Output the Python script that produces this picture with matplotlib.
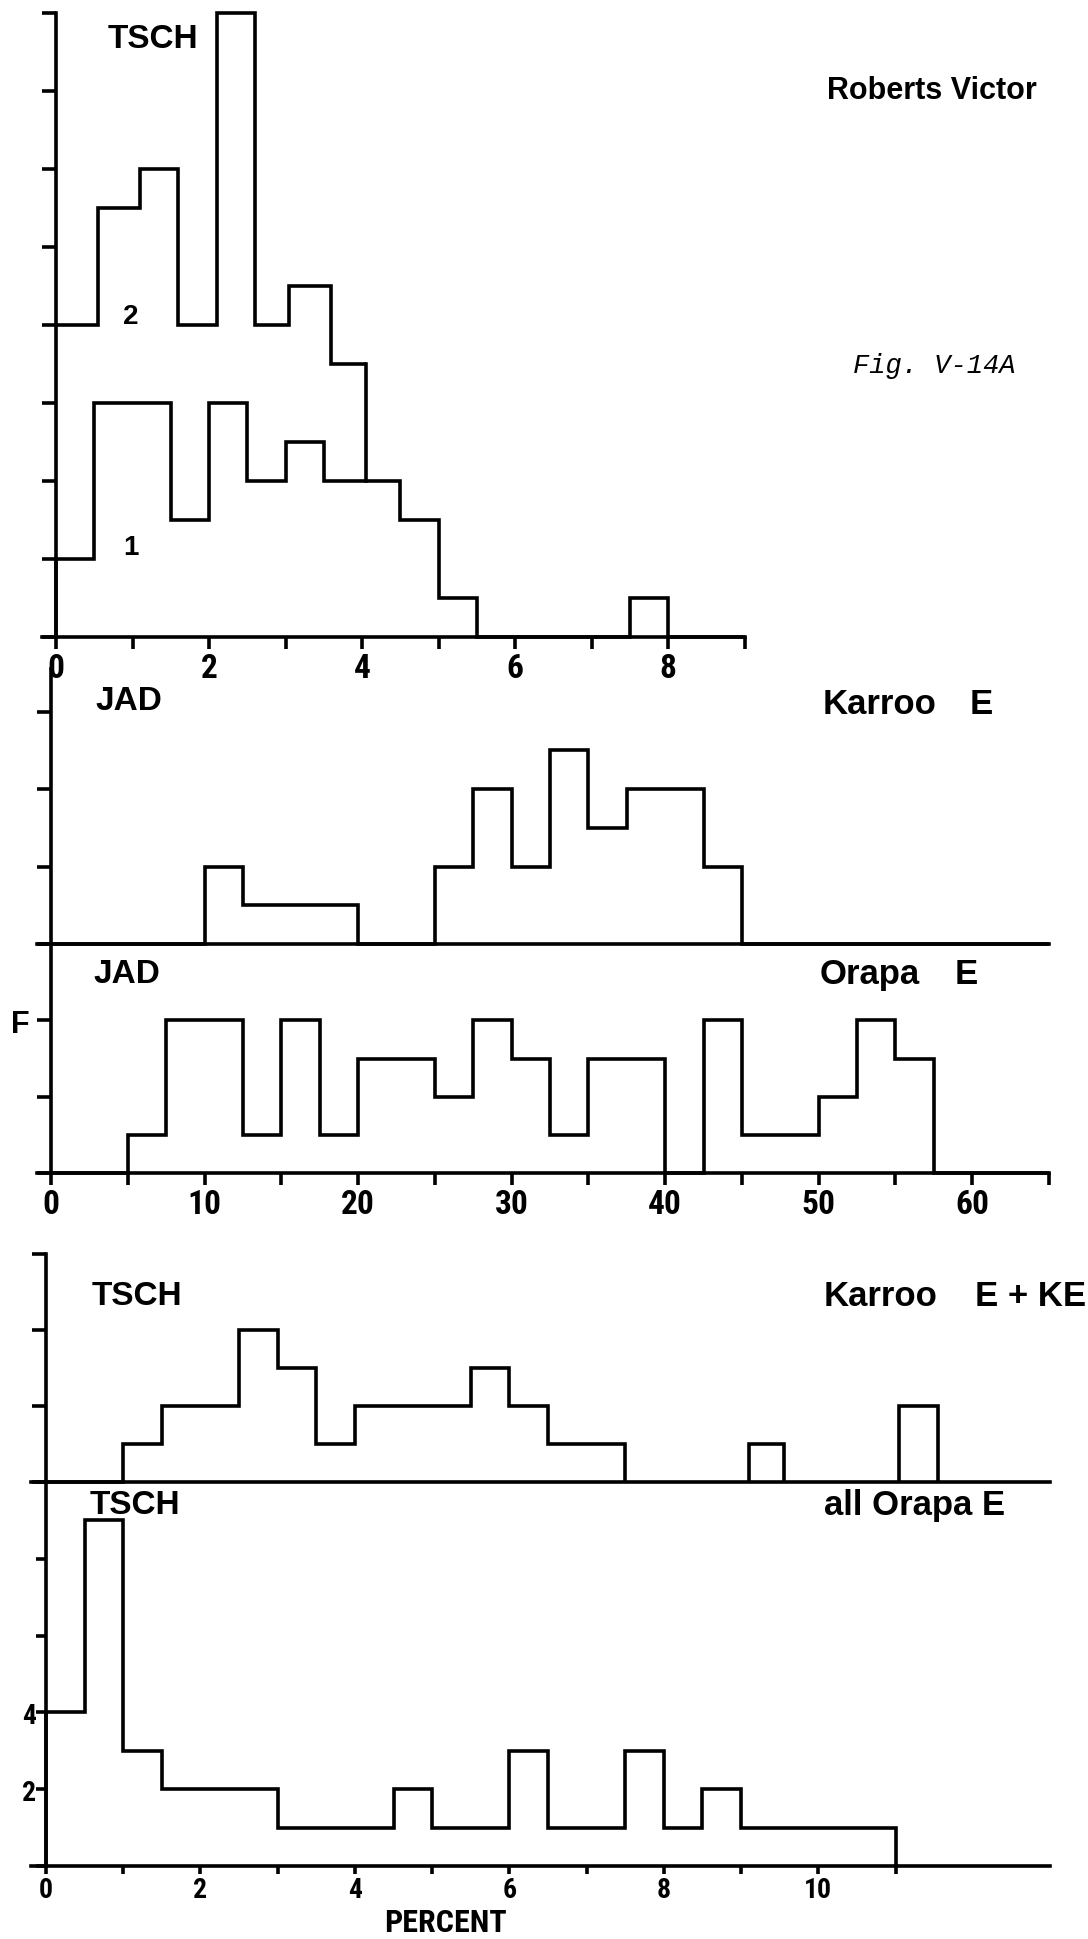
import matplotlib
matplotlib.use("Agg")
import matplotlib.pyplot as plt
from matplotlib import font_manager

# ---- data (counts per bin) ----
# Roberts Victor, TSCH
rv_edges = [0, 0.5, 1, 1.5, 2, 2.5, 3, 3.5, 4, 4.5, 5, 5.5, 6, 6.5, 7, 7.5, 8, 8.5, 9]
rv_curve1 = [2, 6, 6, 3, 6, 4, 5, 4, 4, 3, 1, 0, 0, 0, 0, 1, 0, 0]
rv_curve2_edges = [0, 0.55, 1.1, 1.6, 2.1, 2.6, 3.05, 3.6, 4.05]
rv_curve2 = [8, 11, 12, 8, 16, 8, 9, 7]

# JAD, bins of 2.5 %
jad_edges = [i * 2.5 for i in range(27)]
karroo_jad = [0, 0, 0, 0, 2, 1, 1, 1, 0, 0, 2, 4, 2, 5, 3, 4, 4, 2, 0, 0, 0, 0, 0, 0, 0, 0]
orapa_jad = [0, 0, 1, 4, 4, 1, 4, 1, 3, 3, 2, 4, 3, 1, 3, 3, 0, 4, 1, 1, 2, 4, 3, 0, 0, 0]

# TSCH, bins of 0.5 %
karroo_tsch_edges = [0, 0.5, 1, 1.5, 2, 2.5, 3, 3.5, 4, 4.5, 5, 5.5, 6, 6.5, 7, 7.5]
karroo_tsch = [0, 0, 1, 2, 2, 4, 3, 1, 2, 2, 2, 3, 2, 1, 1]
karroo_tsch_extra = [([9.1, 9.55], [1]), ([11.05, 11.55], [2])]
orapa_tsch_edges = [i * 0.5 for i in range(23)]
orapa_tsch = [4, 9, 3, 2, 2, 2, 1, 1, 1, 2, 1, 1, 3, 1, 1, 3, 1, 2, 1, 1, 1, 1]

W, H = 1088, 1940
LW = 2.6

names = {f.name for f in font_manager.fontManager.ttflist}
NARROW = "DejaVu Sans"
for cand in ["Liberation Sans Narrow", "Roboto Condensed", "Open Sans Condensed", "DejaVu Sans Condensed"]:
    if cand in names:
        NARROW = cand
        break
plt.rcParams["font.family"] = ["Liberation Sans", "DejaVu Sans"]

fig = plt.figure(figsize=(W / 100, H / 100), dpi=100)
fig.patch.set_facecolor("white")


def add_panel(xl, xr, yt, yb):
    return fig.add_axes([xl / W, 1 - yb / H, (xr - xl) / W, (yb - yt) / H])


def style(ax, size=24):
    for s in ["top", "right"]:
        ax.spines[s].set_visible(False)
    for s in ["left", "bottom"]:
        ax.spines[s].set_linewidth(LW)
        ax.spines[s].set_capstyle("projecting")
    ax.patch.set_alpha(0)
    ax.tick_params(axis="both", labelsize=size, labelfontfamily=NARROW)
    ax.tick_params(axis="y", direction="out", length=10, width=LW)
    ax.tick_params(axis="x", direction="out", length=8.5, width=LW, pad=2)
    for lab in ax.get_xticklabels() + ax.get_yticklabels():
        lab.set_fontweight("bold")
        lab.set_fontsize(size)
        lab.set_fontfamily(NARROW)


def steps(ax, vals, edges, baseline=0):
    ax.stairs(vals, edges, baseline=baseline, color="black", lw=LW,
              clip_on=False, joinstyle="miter")


def txt(x, y, s, **kw):
    kw.setdefault("fontsize", 24)
    kw.setdefault("fontweight", "bold")
    kw.setdefault("va", "center")
    fig.text(x / W, 1 - y / H, s, **kw)


# ---- Roberts Victor ----
ax1 = add_panel(56, 744.5, 14, 638)
steps(ax1, rv_curve1, rv_edges)
steps(ax1, rv_curve2, rv_curve2_edges, baseline=None)
join_x = rv_curve2_edges[-1]
join_y = rv_curve1[int(join_x // 0.5)]
ax1.plot([join_x, join_x], [rv_curve2[-1], join_y], color="black", lw=LW,
         solid_capstyle="projecting")
ax1.set_xlim(0, 9)
ax1.set_ylim(0, 16)
ax1.set_yticks(range(0, 17, 2))
ax1.set_yticklabels([])
ax1.set_xticks(range(0, 10))
ax1.set_xticklabels([str(v) if v % 2 == 0 and v < 9 else "" for v in range(0, 10)])
style(ax1)
ax1.spines["bottom"].set_bounds(-0.18, 9)

# ---- Karroo E, JAD ----
ax2 = add_panel(51, 1049, 670, 945)
steps(ax2, karroo_jad, jad_edges)
ax2.set_xlim(0, 65)
ax2.set_ylim(0, 7.1)
ax2.set_yticks([0, 2, 4, 6])
ax2.set_yticklabels([])
ax2.set_xticks([])
style(ax2)
ax2.spines["bottom"].set_bounds(-0.9, 65)

# ---- Orapa E, JAD ----
ax3 = add_panel(51, 1049, 945, 1174)
steps(ax3, orapa_jad, jad_edges)
ax3.set_xlim(0, 65)
ax3.set_ylim(0, 6)
ax3.set_yticks([0, 2, 4, 6])
ax3.set_yticklabels([])
ax3.set_xticks(range(0, 66, 5))
ax3.set_xticklabels([str(v) if v % 10 == 0 else "" for v in range(0, 66, 5)])
style(ax3)
ax3.spines["bottom"].set_bounds(-0.9, 65)

# ---- Karroo E + KE, TSCH ----
ax4 = add_panel(46, 1050, 1255, 1483)
steps(ax4, karroo_tsch, karroo_tsch_edges)
for e, v in karroo_tsch_extra:
    steps(ax4, v, e)
ax4.set_xlim(0, 13)
ax4.set_ylim(0, 6)
ax4.set_yticks([0, 2, 4, 6])
ax4.set_yticklabels([])
ax4.set_xticks([])
style(ax4)
ax4.spines["bottom"].set_bounds(-0.2, 13)

# ---- all Orapa E, TSCH ----
ax5 = add_panel(46, 1050, 1483, 1867)
steps(ax5, orapa_tsch, orapa_tsch_edges)
ax5.set_xlim(0, 13)
ax5.set_ylim(0, 10)
ax5.set_yticks([0, 2, 4, 6, 8, 10])
ax5.set_yticklabels(["", "2", "4", "", "", ""])
ax5.set_xticks(range(0, 12))
ax5.set_xticklabels([str(v) if v % 2 == 0 else "" for v in range(0, 12)])
style(ax5, size=20)
ax5.tick_params(axis="y", length=7, pad=0)
ax5.tick_params(axis="x", length=6, pad=1)
ax5.spines["bottom"].set_bounds(-0.2, 13)

# ---- labels ----
txt(108, 39, "TSCH")
txt(827, 91, "Roberts Victor", fontsize=22)
txt(853, 366, "Fig. V-14A", fontsize=19.5, fontweight="normal",
    fontstyle="italic", family=["Liberation Mono", "DejaVu Sans Mono"])
txt(131, 317, "2", fontsize=20, ha="center")
txt(131, 548, "1", fontsize=20, ha="center")

txt(95, 702, "JAD")
txt(823, 705, "Karroo", fontsize=25)
txt(970, 705, "E", fontsize=25)
txt(93, 975, "JAD")
txt(820, 975, "Orapa", fontsize=25)
txt(955, 975, "E", fontsize=25)
txt(20, 1025, "F", fontsize=22, ha="center")

txt(92, 1297, "TSCH")
txt(824, 1297, "Karroo", fontsize=25)
txt(975, 1297, "E + KE", fontsize=25)
txt(90, 1505, "TSCH")
txt(824, 1505, "all Orapa E", fontsize=25)
txt(446, 1938, "PERCENT", fontsize=23, ha="center", va="bottom",
    family=[NARROW, "DejaVu Sans"], fontstretch="condensed")

fig.savefig("out.png", dpi=100, facecolor="white")
